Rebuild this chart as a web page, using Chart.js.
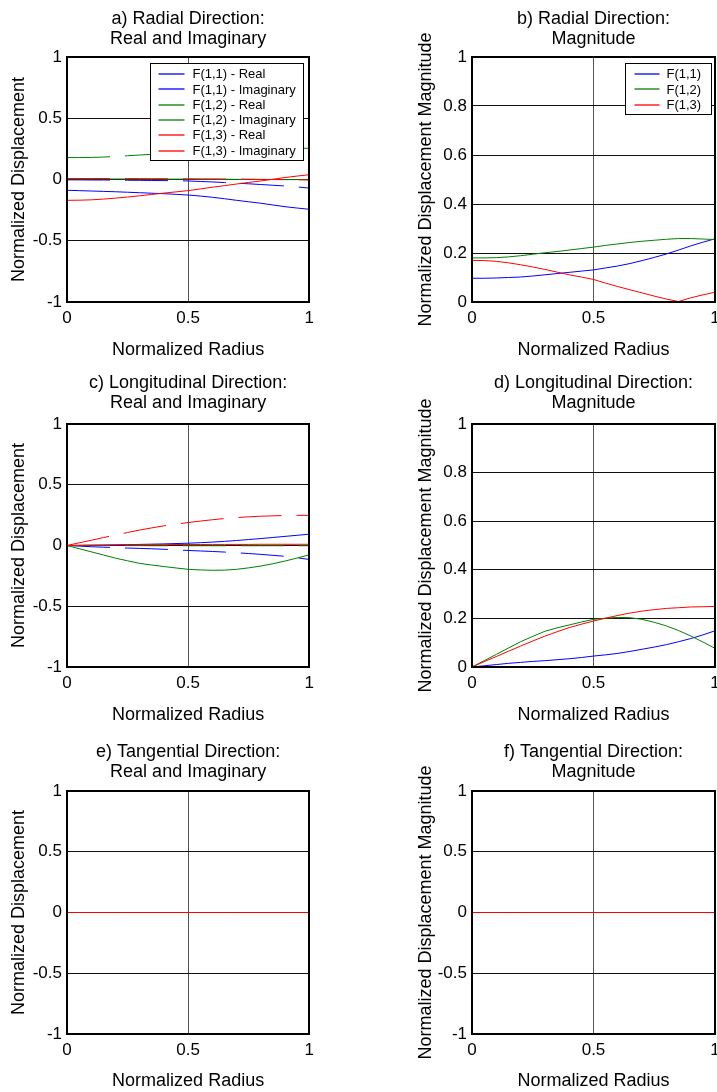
<!DOCTYPE html>
<html>
<head>
<meta charset="utf-8">
<title>Normalized displacement</title>
<script src="https://cdn.jsdelivr.net/npm/chart.js@4.4.1/dist/chart.umd.min.js"></script>
<style>
    html, body { margin: 0; padding: 0; background: #fff; overflow: hidden; }
    body { width: 717px; height: 1092px; position: relative; }
    canvas { position: absolute; }
</style>
</head>
<body>
<canvas id="panelA" width="320" height="370" style="left:0px;top:0px"></canvas>
<canvas id="panelB" width="340" height="370" style="left:390px;top:0px"></canvas>
<canvas id="panelC" width="320" height="370" style="left:0px;top:360px"></canvas>
<canvas id="panelD" width="340" height="370" style="left:390px;top:360px"></canvas>
<canvas id="panelE" width="320" height="372" style="left:0px;top:720px"></canvas>
<canvas id="panelF" width="340" height="372" style="left:390px;top:720px"></canvas>
<script>
// x positions along the radius
const radius = [0, 0.05, 0.1, 0.15, 0.2, 0.25, 0.3, 0.35, 0.4, 0.45, 0.5, 0.55, 0.6, 0.65, 0.7, 0.75, 0.8, 0.85, 0.9, 0.95, 1];

// tick labels
const xTicks = [0, 0.5, 1];
const yTicksSigned = [-1, -0.5, 0, 0.5, 1];
const yTicksMag = [0, 0.2, 0.4, 0.6, 0.8, 1];

const labelsReIm = ['F(1,1) - Real', 'F(1,1) - Imaginary', 'F(1,2) - Real', 'F(1,2) - Imaginary', 'F(1,3) - Real', 'F(1,3) - Imaginary'];
const labelsMag = ['F(1,1)', 'F(1,2)', 'F(1,3)'];

// a) radial, real and imaginary
const radialF11Real = [-0.003, -0.003, -0.004, -0.004, -0.005, -0.006, -0.007, -0.008, -0.009, -0.010, -0.012, -0.016, -0.020, -0.025, -0.030, -0.035, -0.041, -0.047, -0.053, -0.061, -0.070];
const radialF11Imag = [-0.088, -0.091, -0.094, -0.097, -0.100, -0.104, -0.108, -0.112, -0.116, -0.121, -0.127, -0.135, -0.145, -0.157, -0.170, -0.182, -0.194, -0.208, -0.222, -0.233, -0.243];
const radialF12Real = [0.004, 0.004, 0.004, 0.004, 0.004, 0.004, 0.003, 0.003, 0.003, 0.003, 0.003, 0.002, 0.002, 0.002, 0.001, 0.001, 0.000, 0.000, -0.001, -0.001, -0.002];
const radialF12Imag = [0.179, 0.179, 0.180, 0.183, 0.188, 0.194, 0.200, 0.205, 0.211, 0.217, 0.223, 0.230, 0.236, 0.242, 0.247, 0.251, 0.255, 0.258, 0.258, 0.256, 0.254];
const radialF13Real = [0.008, 0.008, 0.008, 0.008, 0.007, 0.007, 0.007, 0.006, 0.006, 0.005, 0.005, 0.004, 0.004, 0.003, 0.003, 0.002, 0.001, 0.000, -0.001, -0.002, -0.003];
const radialF13Imag = [-0.170, -0.169, -0.166, -0.160, -0.152, -0.143, -0.133, -0.122, -0.111, -0.101, -0.091, -0.077, -0.063, -0.050, -0.037, -0.024, -0.012, 0.002, 0.016, 0.028, 0.039];

// b) radial, magnitude
const radialF11Mag = [0.097, 0.097, 0.098, 0.100, 0.102, 0.106, 0.111, 0.116, 0.121, 0.126, 0.131, 0.139, 0.147, 0.157, 0.169, 0.182, 0.196, 0.212, 0.229, 0.244, 0.258];
const radialF12Mag = [0.180, 0.180, 0.181, 0.184, 0.189, 0.195, 0.201, 0.206, 0.212, 0.218, 0.224, 0.231, 0.237, 0.243, 0.248, 0.252, 0.256, 0.259, 0.259, 0.257, 0.255];
const radialF13Mag = [0.170, 0.169, 0.166, 0.160, 0.152, 0.143, 0.133, 0.122, 0.111, 0.102, 0.092, 0.077, 0.063, 0.050, 0.037, 0.024, 0.012, 0.002, 0.017, 0.029, 0.040];

// c) longitudinal, real and imaginary
const longF11Real = [0, -0.005, -0.010, -0.014, -0.018, -0.021, -0.024, -0.027, -0.031, -0.036, -0.041, -0.045, -0.049, -0.054, -0.060, -0.066, -0.073, -0.081, -0.089, -0.101, -0.115];
const longF11Imag = [0, 0.001, 0.002, 0.003, 0.005, 0.007, 0.009, 0.011, 0.013, 0.016, 0.019, 0.023, 0.028, 0.034, 0.041, 0.049, 0.057, 0.066, 0.075, 0.084, 0.093];
const longF12Real = [0, -0.026, -0.052, -0.078, -0.104, -0.126, -0.147, -0.161, -0.173, -0.185, -0.196, -0.201, -0.204, -0.203, -0.196, -0.184, -0.169, -0.150, -0.128, -0.103, -0.077];
const longF12Imag = [0, 0, 0, -0.001, -0.001, -0.001, -0.001, -0.002, -0.002, -0.002, -0.002, -0.002, -0.002, -0.002, -0.002, -0.002, -0.002, -0.002, -0.002, -0.002, -0.002];
const longF13Real = [0, 0.022, 0.043, 0.065, 0.086, 0.107, 0.127, 0.145, 0.162, 0.176, 0.189, 0.201, 0.212, 0.222, 0.230, 0.236, 0.241, 0.244, 0.247, 0.248, 0.248];
const longF13Imag = [0, 0.002, 0.003, 0.004, 0.005, 0.006, 0.006, 0.007, 0.007, 0.008, 0.008, 0.008, 0.009, 0.009, 0.009, 0.009, 0.010, 0.010, 0.010, 0.010, 0.010];

// d) longitudinal, magnitude
const longF11Mag = [0, 0.005, 0.010, 0.015, 0.019, 0.023, 0.026, 0.030, 0.034, 0.039, 0.045, 0.050, 0.056, 0.064, 0.073, 0.082, 0.092, 0.104, 0.117, 0.132, 0.149];
const longF12Mag = [0, 0.026, 0.052, 0.078, 0.104, 0.126, 0.147, 0.161, 0.173, 0.185, 0.196, 0.201, 0.204, 0.203, 0.196, 0.184, 0.169, 0.150, 0.128, 0.103, 0.077];
const longF13Mag = [0, 0.022, 0.043, 0.065, 0.086, 0.107, 0.127, 0.145, 0.162, 0.176, 0.189, 0.201, 0.212, 0.222, 0.230, 0.236, 0.241, 0.244, 0.247, 0.248, 0.249];

// e) and f) tangential: everything sits on zero
const tangReal = [0, 0, 0, 0, 0, 0, 0, 0, 0, 0, 0, 0, 0, 0, 0, 0, 0, 0, 0, 0, 0];
const tangImag = [0, 0, 0, 0, 0, 0, 0, 0, 0, 0, 0, 0, 0, 0, 0, 0, 0, 0, 0, 0, 0];
const tangMag = [0, 0, 0, 0, 0, 0, 0, 0, 0, 0, 0, 0, 0, 0, 0, 0, 0, 0, 0, 0, 0];

const FONT = 'Arial, "Liberation Sans", Helvetica, sans-serif';
Chart.defaults.font.family = FONT;
Chart.defaults.color = '#000';

// line looks: real/imag pairs, dashed ones are the long-dash MATLAB lines
const reImStyles = [
    { color: '#0000ff', dash: true },
    { color: '#0000ff', dash: false },
    { color: '#007f00', dash: false },
    { color: '#008000', dash: true },
    { color: '#ff0000', dash: true },
    { color: '#ff0000', dash: false }
];
const magStyles = [
    { color: '#0000ff', dash: false },
    { color: '#008000', dash: false },
    { color: '#ff0000', dash: false }
];

// heavy box around the plot area
const framePlugin = {
    id: 'frame',
    afterDatasetsDraw(chart) {
        const { ctx, chartArea: a } = chart;
        ctx.save();
        ctx.strokeStyle = '#000';
        ctx.lineWidth = 2;
        ctx.strokeRect(Math.round(a.left), Math.round(a.top), Math.round(a.right - a.left), Math.round(a.bottom - a.top));
        ctx.restore();
    }
};

// MATLAB style legend box inside the top right corner
const boxLegendPlugin = {
    id: 'boxLegend',
    afterDatasetsDraw(chart, args, opts) {
        if (!opts.show) return;
        const { ctx, chartArea } = chart;
        const sets = chart.data.datasets;
        const rowH = 15.3;
        ctx.save();
        ctx.font = '13px ' + FONT;
        const textW = Math.max(...sets.map(d => ctx.measureText(d.label).width));
        const w = Math.round(opts.textX + textW + opts.padRight);
        const h = Math.round(sets.length * rowH + 5);
        const x0 = Math.round(chartArea.right - opts.right - w) + 0.5;
        const y0 = Math.round(chartArea.top + opts.top) + 0.5;
        ctx.fillStyle = '#fff';
        ctx.fillRect(x0, y0, w, h);
        ctx.strokeStyle = '#000';
        ctx.lineWidth = 1;
        ctx.strokeRect(x0, y0, w, h);
        ctx.textBaseline = 'middle';
        ctx.textAlign = 'left';
        sets.forEach((d, i) => {
            const cy = y0 + 3 + rowH * i + rowH / 2;
            ctx.strokeStyle = d.borderColor;
            ctx.lineWidth = 1.3;
            ctx.setLineDash([]);
            ctx.beginPath();
            ctx.moveTo(x0 + opts.lineX0, Math.round(cy));
            ctx.lineTo(x0 + opts.lineX1, Math.round(cy));
            ctx.stroke();
            ctx.fillStyle = '#000';
            ctx.fillText(d.label, x0 + opts.textX, cy + 0.5);
        });
        ctx.restore();
    }
};

// geometry of the grid of panels
const colGeo = [
    { yAxisW: 67, padRight: 10, yTitlePad: 8.7 },
    { yAxisW: 82, padRight: 15, yTitlePad: 25.7 }
];
const rowGeo = [
    { titleTop: 9.4, titleBottom: 8.0, xAxisH: 68, xTitlePad: 9.2 },
    { titleTop: 13.4, titleBottom: 11.0, xAxisH: 63, xTitlePad: 4.2 },
    { titleTop: 22.3, titleBottom: 9.1, xAxisH: 58, xTitlePad: 0 }
];

function makePanel(id, row, col, title, yTitle, yTicks, labels, seriesValues, styles, legend) {
    const rg = rowGeo[row];
    const cg = colGeo[col];
    const n = seriesValues.length;
    const datasets = seriesValues.map((vals, i) => ({
        label: labels[i],
        data: radius.map((r, k) => ({ x: r, y: vals[k] })),
        borderColor: styles[i].color,
        borderDash: styles[i].dash ? [43, 15] : [],
        borderWidth: 1,
        pointRadius: 0,
        tension: 0,
        fill: false,
        order: n - 1 - i
    }));

    return new Chart(document.getElementById(id), {
        type: 'line',
        data: { datasets: datasets },
        options: {
            responsive: false,
            animation: false,
            events: [],
            layout: { padding: { left: 0, right: cg.padRight, top: 0, bottom: 0 } },
            plugins: {
                legend: { display: false },
                tooltip: { enabled: false },
                title: {
                    display: true,
                    text: title,
                    fullSize: false,
                    font: { size: 18, weight: 'normal', lineHeight: 1.1 },
                    padding: { top: rg.titleTop, bottom: rg.titleBottom }
                },
                boxLegend: legend || { show: false }
            },
            scales: {
                x: {
                    type: 'linear',
                    min: 0,
                    max: 1,
                    afterBuildTicks: s => { s.ticks = xTicks.map(v => ({ value: v })); },
                    afterFit: s => { s.height = rg.xAxisH; },
                    grid: { color: '#555', lineWidth: 1, drawTicks: false },
                    border: { display: false },
                    ticks: { padding: 6, maxRotation: 0, autoSkip: false, font: { size: 17 }, callback: v => String(v) },
                    title: { display: true, text: 'Normalized Radius', font: { size: 18 }, padding: { top: 0, bottom: rg.xTitlePad } }
                },
                y: {
                    type: 'linear',
                    min: yTicks[0],
                    max: yTicks[yTicks.length - 1],
                    afterBuildTicks: s => { s.ticks = yTicks.map(v => ({ value: v })); },
                    afterFit: s => { s.width = cg.yAxisW; },
                    grid: { color: '#111', lineWidth: 1, drawTicks: false },
                    border: { display: false },
                    ticks: { padding: 5, autoSkip: false, font: { size: 17 }, callback: v => String(v) },
                    title: { display: true, text: yTitle, font: { size: 18 }, padding: { top: cg.yTitlePad, bottom: 0 } }
                }
            }
        },
        plugins: [framePlugin, boxLegendPlugin]
    });
}

makePanel('panelA', 0, 0, ['a) Radial Direction:', 'Real and Imaginary'], 'Normalized Displacement', yTicksSigned, labelsReIm,
    [radialF11Real, radialF11Imag, radialF12Real, radialF12Imag, radialF13Real, radialF13Imag], reImStyles,
    { show: true, right: 6, top: 6, lineX0: 8, lineX1: 34, textX: 42, padRight: 8 });

makePanel('panelB', 0, 1, ['b) Radial Direction:', 'Magnitude'], 'Normalized Displacement Magnitude', yTicksMag, labelsMag,
    [radialF11Mag, radialF12Mag, radialF13Mag], magStyles,
    { show: true, right: 4, top: 6, lineX0: 9, lineX1: 34, textX: 41, padRight: 10 });

makePanel('panelC', 1, 0, ['c) Longitudinal Direction:', 'Real and Imaginary'], 'Normalized Displacement', yTicksSigned, labelsReIm,
    [longF11Real, longF11Imag, longF12Real, longF12Imag, longF13Real, longF13Imag], reImStyles);

makePanel('panelD', 1, 1, ['d) Longitudinal Direction:', 'Magnitude'], 'Normalized Displacement Magnitude', yTicksMag, labelsMag,
    [longF11Mag, longF12Mag, longF13Mag], magStyles);

makePanel('panelE', 2, 0, ['e) Tangential Direction:', 'Real and Imaginary'], 'Normalized Displacement', yTicksSigned, labelsReIm,
    [tangReal, tangImag, tangReal, tangImag, tangReal, tangImag], reImStyles);

makePanel('panelF', 2, 1, ['f) Tangential Direction:', 'Magnitude'], 'Normalized Displacement Magnitude', yTicksSigned, labelsMag,
    [tangMag, tangMag, tangMag], magStyles);
</script>
</body>
</html>
